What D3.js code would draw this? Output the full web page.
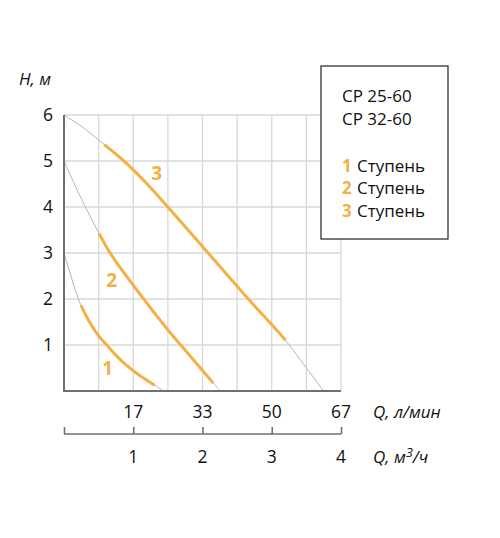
<!DOCTYPE html>
<html><head><meta charset="utf-8">
<script src="https://cdn.jsdelivr.net/npm/d3@7"></script>
<style>
html,body{margin:0;padding:0;background:#fff;}
svg text{font-family:"Open Sans","Noto Sans",sans-serif;}
</style></head>
<body><svg id="c" width="500" height="538"></svg>
<script>
// ---- data (Q in m3/h, H in m) ----
const hTicks = [1, 2, 3, 4, 5, 6];
const qM3hTicks = [1, 2, 3, 4];
const qLminLabels = ["17", "33", "50", "67"];
const models = ["CP 25-60", "CP 32-60"];
const stageNames = ["1", "2", "3"];
const stage1 = [[0,3],[0.1,2.5],[0.207,2],[0.35,1.55],[0.5,1.2],[0.617,1],[0.8,0.7],[1.0,0.44],[1.2,0.23],[1.315,0.12],[1.44,0]];
const stage2 = [[0,5],[0.15,4.5],[0.3,4.03],[0.505,3.43],[0.675,2.98],[1.0,2.3],[1.5,1.33],[1.8,0.8],[2.157,0.17],[2.26,0]];
const stage3 = [[0,6],[0.3,5.7],[0.58,5.36],[0.88,4.98],[1.2,4.5],[1.5,4.0],[2.07,3.02],[2.65,2.02],[3.2,1.1],[3.5,0.5],[3.75,0]];
const activeQ1 = [0.245, 1.315];   // working (orange) part of each curve
const activeQ2 = [0.505, 2.157];
const activeQ3 = [0.58, 3.2];
const labelAt1 = [0.63, 0.51];
const labelAt2 = [0.69, 2.41];
const labelAt3 = [1.34, 4.74];

const ORANGE = "#F4B043";
const svg = d3.select("#c");
const x = d3.scaleLinear().domain([0, 4]).range([64, 341]);
const y = d3.scaleLinear().domain([0, 6]).range([391, 115]);

// grid
const gx = d3.range(1, 9).map(i => i * 0.5);
svg.append("g").selectAll("line").data(gx).join("line")
  .attr("x1", d => x(d)).attr("x2", d => x(d)).attr("y1", y(6)).attr("y2", y(0))
  .attr("stroke", "#d9d9d9").attr("stroke-width", 1.3);
svg.append("g").selectAll("line").data(hTicks).join("line")
  .attr("x1", x(0)).attr("x2", x(4)).attr("y1", d => y(d)).attr("y2", d => y(d))
  .attr("stroke", "#d9d9d9").attr("stroke-width", 1.3);

// curves
const line = d3.line().x(d => x(d[0])).y(d => y(d[1])).curve(d3.curveCatmullRom.alpha(0.5));
const stages = [
  {pts: stage1, r: activeQ1, lab: labelAt1, name: stageNames[0]},
  {pts: stage2, r: activeQ2, lab: labelAt2, name: stageNames[1]},
  {pts: stage3, r: activeQ3, lab: labelAt3, name: stageNames[2]}
];
stages.forEach(s => {
  s.path = svg.append("path").attr("d", line(s.pts)).attr("fill", "none")
    .attr("stroke", "#b5b5b5").attr("stroke-width", 1);
});
stages.forEach(s => {
  const node = s.path.node();
  const L = node.getTotalLength();
  const x0 = x(s.r[0]), x1 = x(s.r[1]);
  const sub = [];
  for (let l = 0; l <= L; l += 0.5) {
    const p = node.getPointAtLength(l);
    if (p.x >= x0 && p.x <= x1) sub.push([p.x, p.y]);
  }
  svg.append("path").attr("d", d3.line()(sub)).attr("fill", "none")
    .attr("stroke", ORANGE).attr("stroke-width", 3);
  svg.append("text").attr("x", x(s.lab[0])).attr("y", y(s.lab[1]) + 7)
    .attr("text-anchor", "middle").attr("font-size", 19).attr("font-weight", "bold")
    .attr("fill", ORANGE).text(s.name);
});

// axes lines
svg.append("line").attr("x1", x(0)).attr("x2", x(0)).attr("y1", y(6)).attr("y2", y(0) + 1)
  .attr("stroke", "#707070").attr("stroke-width", 2);
svg.append("line").attr("x1", x(0) - 1).attr("x2", x(4)).attr("y1", y(0)).attr("y2", y(0))
  .attr("stroke", "#707070").attr("stroke-width", 2);

// y tick labels
svg.append("g").selectAll("text").data(hTicks).join("text")
  .attr("x", 53).attr("y", d => y(d) + 6).attr("text-anchor", "end")
  .attr("font-size", 17.5).attr("fill", "#111").text(d => d);
svg.append("text").attr("x", 19).attr("y", 85).attr("font-size", 17)
  .attr("font-style", "italic").attr("fill", "#111").text("H, м");

// upper x labels (l/min)
svg.append("g").selectAll("text").data(qM3hTicks).join("text")
  .attr("x", d => x(d)).attr("y", 418).attr("text-anchor", "middle")
  .attr("font-size", 17.5).attr("fill", "#111").text((d, i) => qLminLabels[i]);
svg.append("text").attr("x", 373).attr("y", 418).attr("font-size", 17)
  .attr("font-style", "italic").attr("fill", "#111").text("Q, л/мин");

// lower axis (m3/h)
const ax = d3.axisTop(x).tickValues([0].concat(qM3hTicks)).tickSize(7).tickFormat("");
const g2 = svg.append("g").attr("transform", "translate(0,434)").call(ax);
g2.selectAll("path,line").attr("stroke", "#707070").attr("stroke-width", 1.6);
g2.select(".domain").attr("d", `M${x(0)},0H${x(4)}`);
svg.append("g").selectAll("text").data(qM3hTicks).join("text")
  .attr("x", d => x(d)).attr("y", 463).attr("text-anchor", "middle")
  .attr("font-size", 17.5).attr("fill", "#111").text(d => d);
const qt = svg.append("text").attr("x", 373).attr("y", 463).attr("font-size", 17)
  .attr("font-style", "italic").attr("fill", "#111");
qt.append("tspan").text("Q, м");
qt.append("tspan").attr("dy", -6).attr("font-size", 13).text("3");
qt.append("tspan").attr("dy", 6).text("/ч");

// legend
svg.append("rect").attr("x", 321).attr("y", 66).attr("width", 127).attr("height", 173)
  .attr("fill", "#fff").attr("stroke", "#333").attr("stroke-width", 1.3);
svg.append("g").selectAll("text").data(models).join("text")
  .attr("x", 342).attr("y", (d, i) => 102 + i * 23).attr("font-size", 17)
  .attr("fill", "#111").text(d => d);
const lg = svg.append("g").selectAll("g").data(stageNames).join("g");
lg.append("text").attr("x", 342).attr("y", (d, i) => 172 + i * 22.3)
  .attr("font-size", 17).attr("font-weight", "bold").attr("fill", ORANGE).text(d => d);
lg.append("text").attr("x", 357).attr("y", (d, i) => 172 + i * 22.3)
  .attr("font-size", 17).attr("fill", "#111").text("Ступень");
</script></body></html>
